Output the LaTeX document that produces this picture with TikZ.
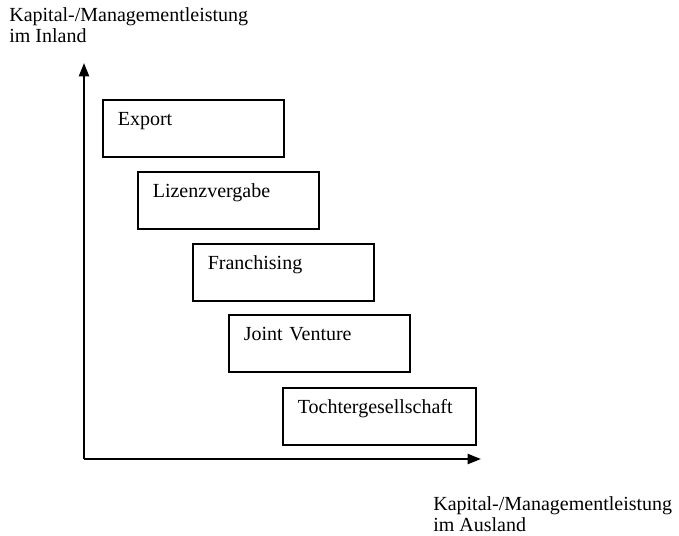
\documentclass[tikz,border=0pt]{standalone}
\usepackage{fontspec}
\setmainfont{Liberation Serif}
\usetikzlibrary{arrows.meta}

\begin{document}
\begin{tikzpicture}[x=0.6pt,y=-0.6pt,font=\fontsize{12}{12.6}\selectfont,
  stage/.style={draw=black,line width=1pt,anchor=north west,align=left,inner xsep=9pt,inner ysep=0pt,text width=90.6pt,text height=15.6pt,text depth=18.6pt},
  stageW/.style={stage,text width=97.8pt},
  axis/.style={line width=1.2pt,-{Triangle[length=8pt,width=6pt]}}]
\useasboundingbox (0,0) rectangle (679,536);

\coordinate (O) at (84,459);
\coordinate (Ytip) at (84,63);
\coordinate (Xtip) at (481,459);
\draw[axis] (O) -- (Ytip);
\draw[axis] (O) -- (Xtip);

\node[anchor=base west,align=left,inner sep=0pt] (inland) at (9,43) {Kapital-/Managementleistung\\im Inland};
\node[anchor=base west,align=left,inner sep=0pt] (ausland) at (433,531) {Kapital-/Managementleistung\\im Ausland};

\node[stage] (export) at (102,99) {Export};
\node[stage] (lizenz) at (137,171) {Lizenzvergabe};
\node[stage] (franch) at (192,243) {Franchising};
\node[stage] (joint) at (228,314) {Joint Venture};
\node[stageW] (tochter) at (282,387) {Tochtergesellschaft};
\end{tikzpicture}
\end{document}
